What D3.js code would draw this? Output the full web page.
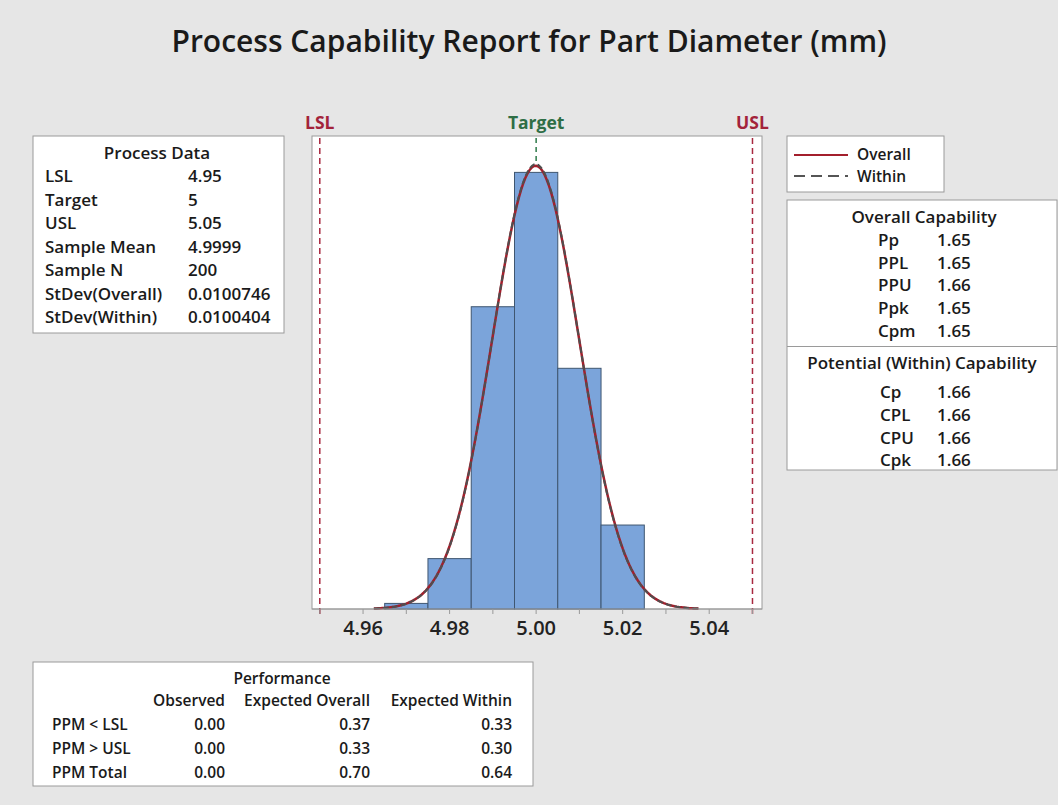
<!DOCTYPE html>
<html>
<head>
<meta charset="utf-8">
<script src="https://cdn.jsdelivr.net/npm/d3@7"></script>
<style>
  body { margin: 0; background: #e6e6e6; }
  text { font-family: "Open Sans", "Noto Sans", sans-serif; fill: #1a1a1a; }
</style>
</head>
<body>
<div id="chart"></div>
<script>
// Histogram data (bin centers and counts, bin width 0.01)
var binCenters = [4.97, 4.98, 4.99, 5.00, 5.01, 5.02];
var binCounts = [1, 9, 54, 78, 43, 15];
var binWidth = 0.01;

// Spec limits
var LSL = 4.95, TARGET = 5, USL = 5.05;
var sampleMean = 4.9999, sampleN = 200;
var sdOverall = 0.0100746, sdWithin = 0.0100404;
var curveRange = [4.9625, 5.0375];

// Tick values
var tickValues = [4.95, 4.96, 4.97, 4.98, 4.99, 5.00, 5.01, 5.02, 5.03, 5.04, 5.05];
var tickLabels = [4.96, 4.98, 5.00, 5.02, 5.04];

// Tables
var processData = [
    ["LSL", "4.95"], ["Target", "5"], ["USL", "5.05"], ["Sample Mean", "4.9999"],
    ["Sample N", "200"], ["StDev(Overall)", "0.0100746"], ["StDev(Within)", "0.0100404"]
];
var overallCap = [["Pp", "1.65"], ["PPL", "1.65"], ["PPU", "1.66"], ["Ppk", "1.65"], ["Cpm", "1.65"]];
var withinCap = [["Cp", "1.66"], ["CPL", "1.66"], ["CPU", "1.66"], ["Cpk", "1.66"]];
var perfHeaders = ["Observed", "Expected Overall", "Expected Within"];
var perfRows = [
    ["PPM < LSL", "0.00", "0.37", "0.33"],
    ["PPM > USL", "0.00", "0.33", "0.30"],
    ["PPM Total", "0.00", "0.70", "0.64"]
];

var width = 1058, height = 805;
var fs = "17px", fsPerf = "15.5px", fsLegend = "15.5px";

var svg = d3.select("#chart").append("svg")
    .attr("width", width)
    .attr("height", height);

svg.append("rect").attr("width", width).attr("height", height).attr("fill", "#e6e6e6");

// Title
svg.append("text")
    .attr("x", 529).attr("y", 52)
    .attr("text-anchor", "middle")
    .style("font-size", "30px").style("font-weight", 600)
    .text("Process Capability Report for Part Diameter (mm)");

// Plot area
var plot = { left: 312, right: 762, top: 136, bottom: 609 };

var x = d3.scaleLinear().domain([4.9482, 5.0522]).range([plot.left, plot.right]);
var y = d3.scaleLinear().domain([0, 84.5]).range([plot.bottom, plot.top]);

svg.append("rect")
    .attr("x", plot.left).attr("y", plot.top)
    .attr("width", plot.right - plot.left).attr("height", plot.bottom - plot.top)
    .attr("fill", "#fff").attr("stroke", "#9a9a9a").attr("stroke-width", 1);

// Target line (stops at curve peak)
function density(v, m, s) {
    return sampleN * binWidth * Math.exp(-0.5 * Math.pow((v - m) / s, 2)) / (s * Math.sqrt(2 * Math.PI));
}
svg.append("line")
    .attr("x1", x(TARGET)).attr("x2", x(TARGET))
    .attr("y1", plot.top + 2).attr("y2", y(density(TARGET, sampleMean, sdOverall)))
    .attr("stroke", "#2e7a4a").attr("stroke-width", 1.5)
    .attr("stroke-dasharray", "5,4");

// Bars
svg.append("g").selectAll("rect")
    .data(binCenters)
    .enter().append("rect")
    .attr("x", d => x(d - binWidth / 2))
    .attr("width", d => x(d + binWidth / 2) - x(d - binWidth / 2))
    .attr("y", (d, i) => y(binCounts[i]))
    .attr("height", (d, i) => y(0) - y(binCounts[i]))
    .attr("fill", "#7ba4da")
    .attr("stroke", "#3f5670")
    .attr("stroke-width", 1);

// Spec limit lines
[LSL, USL].forEach(function(v) {
    svg.append("line")
        .attr("x1", x(v)).attr("x2", x(v))
        .attr("y1", plot.top + 2).attr("y2", plot.bottom + 5)
        .attr("stroke", "#a8283f").attr("stroke-width", 1.5)
        .attr("stroke-dasharray", "6,4");
});

// Normal curves
var pts = d3.range(curveRange[0], curveRange[1] + 1e-9, 0.0005);
var line = d3.line().x(d => x(d[0])).y(d => y(d[1]));

svg.append("path")
    .datum(pts.map(v => [v, density(v, sampleMean, sdOverall)]))
    .attr("d", line)
    .attr("fill", "none").attr("stroke", "#a31f2c").attr("stroke-width", 2.5);

svg.append("path")
    .datum(pts.map(v => [v, density(v, sampleMean, sdWithin)]))
    .attr("d", line)
    .attr("fill", "none").attr("stroke", "#4f4f4f").attr("stroke-width", 2)
    .attr("stroke-dasharray", "6,3");

// Axis
var axis = svg.append("g").attr("transform", "translate(0," + plot.bottom + ")");
axis.append("line")
    .attr("x1", plot.left).attr("x2", plot.right)
    .attr("stroke", "#9a9a9a");
axis.selectAll(".tick")
    .data(tickValues)
    .enter().append("line")
    .attr("x1", d => x(d)).attr("x2", d => x(d))
    .attr("y1", 0).attr("y2", 5)
    .attr("stroke", "#9a9a9a");
axis.selectAll(".lbl")
    .data(tickLabels)
    .enter().append("text")
    .attr("x", d => x(d)).attr("y", 26)
    .attr("text-anchor", "middle")
    .style("font-size", "20px").style("font-weight", 600)
    .style("fill", "#222")
    .text(d => d3.format(".2f")(d));

// Spec labels
var specLabels = [[LSL, "LSL", "#a3233a"], [TARGET, "Target", "#2e6e45"], [USL, "USL", "#a3233a"]];
specLabels.forEach(function(s) {
    svg.append("text")
        .attr("x", x(s[0])).attr("y", 129)
        .attr("text-anchor", "middle")
        .style("font-size", "17.5px").style("font-weight", 700)
        .style("fill", s[2])
        .text(s[1]);
});

// Process Data box
var pd = svg.append("g");
pd.append("rect").attr("x", 33).attr("y", 136).attr("width", 251).attr("height", 197)
    .attr("fill", "#fff").attr("stroke", "#9a9a9a");
pd.append("text").attr("x", 157).attr("y", 159).attr("text-anchor", "middle")
    .style("font-size", fs).style("font-weight", 600).text("Process Data");
processData.forEach(function(r, i) {
    var yy = 182 + i * 23.5;
    pd.append("text").attr("x", 45).attr("y", yy).style("font-size", fs).style("font-weight", 600).text(r[0]);
    pd.append("text").attr("x", 188).attr("y", yy).style("font-size", fs).style("font-weight", 600).text(r[1]);
});

// Legend box
var lg = svg.append("g");
lg.append("rect").attr("x", 787).attr("y", 136).attr("width", 157).attr("height", 56)
    .attr("fill", "#fff").attr("stroke", "#9a9a9a");
lg.append("line").attr("x1", 794).attr("x2", 848).attr("y1", 155).attr("y2", 155)
    .attr("stroke", "#a31f2c").attr("stroke-width", 2);
lg.append("line").attr("x1", 794).attr("x2", 848).attr("y1", 176).attr("y2", 176)
    .attr("stroke", "#555").attr("stroke-width", 2).attr("stroke-dasharray", "11,6");
lg.append("text").attr("x", 857).attr("y", 160).style("font-size", fsLegend).style("font-weight", 600).text("Overall");
lg.append("text").attr("x", 857).attr("y", 182).style("font-size", fsLegend).style("font-weight", 600).text("Within");

// Capability box
var cb = svg.append("g");
cb.append("rect").attr("x", 787).attr("y", 200).attr("width", 270).attr("height", 270)
    .attr("fill", "#fff").attr("stroke", "#9a9a9a");
cb.append("line").attr("x1", 787).attr("x2", 1057).attr("y1", 346.5).attr("y2", 346.5)
    .attr("stroke", "#9a9a9a");
cb.append("text").attr("x", 924).attr("y", 223).attr("text-anchor", "middle")
    .style("font-size", fs).style("font-weight", 600).text("Overall Capability");
overallCap.forEach(function(r, i) {
    var yy = 246 + i * 22.7;
    cb.append("text").attr("x", 878).attr("y", yy).style("font-size", fs).style("font-weight", 600).text(r[0]);
    cb.append("text").attr("x", 937).attr("y", yy).style("font-size", fs).style("font-weight", 600).text(r[1]);
});
cb.append("text").attr("x", 922).attr("y", 369).attr("text-anchor", "middle")
    .style("font-size", fs).style("font-weight", 600).text("Potential (Within) Capability");
withinCap.forEach(function(r, i) {
    var yy = 398 + i * 22.8;
    cb.append("text").attr("x", 880).attr("y", yy).style("font-size", fs).style("font-weight", 600).text(r[0]);
    cb.append("text").attr("x", 937).attr("y", yy).style("font-size", fs).style("font-weight", 600).text(r[1]);
});

// Performance box
var pb = svg.append("g");
pb.append("rect").attr("x", 33).attr("y", 662).attr("width", 500).attr("height", 124)
    .attr("fill", "#fff").attr("stroke", "#9a9a9a");
pb.append("text").attr("x", 282).attr("y", 684).attr("text-anchor", "middle")
    .style("font-size", fsPerf).style("font-weight", 600).text("Performance");
var colRight = [225, 370, 512];
perfHeaders.forEach(function(h, j) {
    pb.append("text").attr("x", colRight[j]).attr("y", 706).attr("text-anchor", "end")
        .style("font-size", fsPerf).style("font-weight", 600).text(h);
});
perfRows.forEach(function(r, i) {
    var yy = 730 + i * 24;
    pb.append("text").attr("x", 52).attr("y", yy).style("font-size", fsPerf).style("font-weight", 600).text(r[0]);
    for (var j = 1; j < 4; j++) {
        pb.append("text").attr("x", colRight[j - 1]).attr("y", yy).attr("text-anchor", "end")
            .style("font-size", fsPerf).style("font-weight", 600).text(r[j]);
    }
});
</script>
</body>
</html>
